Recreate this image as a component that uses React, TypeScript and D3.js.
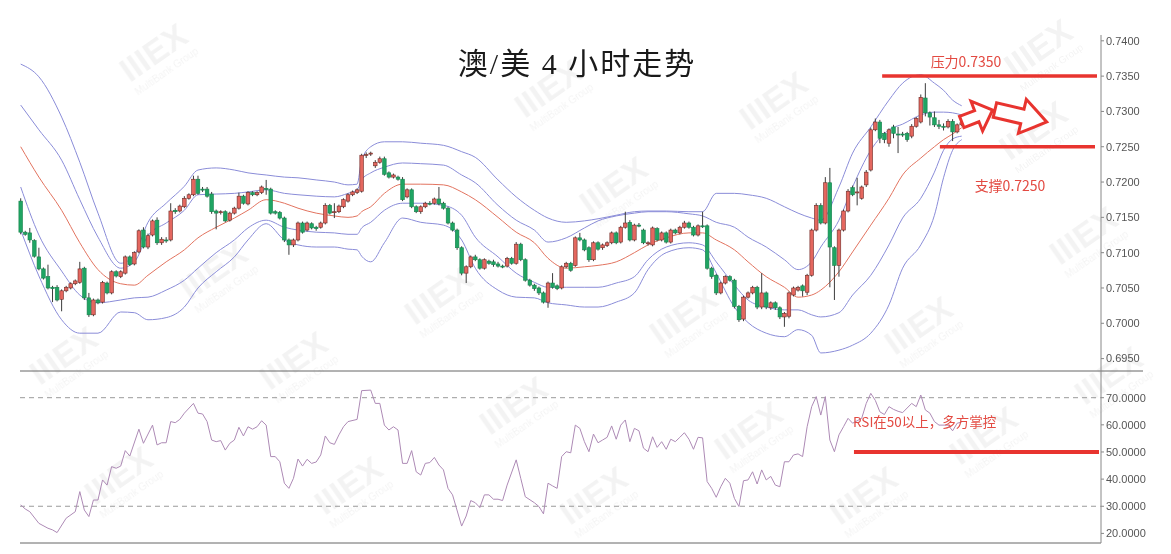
import React from 'react';
import * as d3 from 'd3';

const WIDTH = 1171;
const HEIGHT = 554;

// ---- candle data (4h AUD/USD) ----
const opens = [
0.7173,0.7129,0.7128,0.7117,0.7094,0.7077,0.7066,0.7051,0.7051,0.7034,
0.7046,0.7050,0.7056,0.7058,0.7078,0.7036,0.7012,0.7033,0.7030,0.7057,
0.7043,0.7073,0.7066,0.7071,0.7094,0.7084,0.7101,0.7132,0.7108,0.7125,
0.7146,0.7114,0.7118,0.7118,0.7160,0.7159,0.7165,0.7177,0.7182,0.7204,
0.7190,0.7190,0.7183,0.7159,0.7157,0.7158,0.7146,0.7156,0.7163,0.7180,
0.7169,0.7185,0.7182,0.7185,0.7191,0.7190,0.7158,0.7157,0.7149,0.7118,
0.7111,0.7118,0.7142,0.7132,0.7141,0.7136,0.7136,0.7142,0.7167,0.7157,
0.7158,0.7165,0.7173,0.7182,0.7185,0.7187,0.7238,0.7240,0.7223,0.7228,
0.7233,0.7213,0.7207,0.7207,0.7204,0.7179,0.7189,0.7165,0.7158,0.7165,
0.7170,0.7170,0.7176,0.7170,0.7163,0.7142,0.7132,0.7107,0.7071,0.7080,
0.7094,0.7090,0.7078,0.7088,0.7087,0.7084,0.7081,0.7081,0.7092,0.7085,
0.7112,0.7090,0.7061,0.7054,0.7050,0.7043,0.7030,0.7057,0.7053,0.7050,
0.7080,0.7085,0.7082,0.7121,0.7118,0.7107,0.7090,0.7114,0.7107,0.7110,
0.7114,0.7128,0.7115,0.7136,0.7143,0.7118,0.7139,0.7132,0.7113,0.7111,
0.7134,0.7118,0.7128,0.7115,0.7132,0.7128,0.7136,0.7142,0.7136,0.7125,
0.7138,0.7138,0.7078,0.7068,0.7043,0.7057,0.7066,0.7061,0.7024,0.7006,
0.7037,0.7043,0.7051,0.7023,0.7043,0.7022,0.7029,0.7022,0.7009,0.7010,
0.7040,0.7047,0.7053,0.7044,0.7068,0.7132,0.7167,0.7142,0.7199,0.7107,
0.7082,0.7132,0.7159,0.7192,0.7185,0.7177,0.7196,0.7217,0.7274,0.7285,
0.7269,0.7255,0.7278,0.7268,0.7268,0.7269,0.7265,0.7279,0.7285,0.7319,
0.7298,0.7291,0.7281,0.7279,0.7278,0.7286,0.7271,0.7281];
const highs = [
0.7177,0.7131,0.7135,0.7119,0.7107,0.7079,0.7083,0.7053,0.7054,0.7048,
0.7053,0.7058,0.7062,0.7087,0.7080,0.7043,0.7035,0.7035,0.7060,0.7059,
0.7075,0.7075,0.7075,0.7096,0.7096,0.7102,0.7133,0.7136,0.7127,0.7147,
0.7150,0.7122,0.7122,0.7170,0.7163,0.7168,0.7180,0.7184,0.7209,0.7209,
0.7193,0.7193,0.7186,0.7161,0.7160,0.7160,0.7158,0.7165,0.7185,0.7182,
0.7187,0.7187,0.7187,0.7195,0.7203,0.7192,0.7160,0.7159,0.7151,0.7120,
0.7120,0.7144,0.7144,0.7144,0.7143,0.7138,0.7144,0.7170,0.7169,0.7170,
0.7168,0.7177,0.7184,0.7188,0.7191,0.7240,0.7242,0.7243,0.7231,0.7236,
0.7236,0.7215,0.7212,0.7209,0.7207,0.7191,0.7191,0.7167,0.7167,0.7172,
0.7173,0.7178,0.7193,0.7172,0.7165,0.7144,0.7134,0.7109,0.7082,0.7096,
0.7097,0.7092,0.7092,0.7090,0.7090,0.7087,0.7083,0.7094,0.7094,0.7115,
0.7114,0.7092,0.7063,0.7056,0.7052,0.7045,0.7059,0.7071,0.7055,0.7082,
0.7087,0.7087,0.7123,0.7128,0.7120,0.7109,0.7116,0.7116,0.7113,0.7116,
0.7130,0.7130,0.7138,0.7158,0.7146,0.7141,0.7142,0.7134,0.7116,0.7137,
0.7136,0.7130,0.7130,0.7134,0.7134,0.7138,0.7145,0.7144,0.7138,0.7140,
0.7158,0.7140,0.7080,0.7070,0.7059,0.7068,0.7068,0.7063,0.7026,0.7039,
0.7045,0.7053,0.7053,0.7071,0.7045,0.7031,0.7031,0.7024,0.7016,0.7045,
0.7052,0.7053,0.7055,0.7070,0.7134,0.7170,0.7170,0.7207,0.7220,0.7109,
0.7134,0.7161,0.7190,0.7195,0.7206,0.7195,0.7217,0.7277,0.7290,0.7288,
0.7271,0.7276,0.7281,0.7278,0.7271,0.7271,0.7282,0.7292,0.7324,0.7340,
0.7300,0.7300,0.7288,0.7283,0.7289,0.7289,0.7283,0.7287];
const lows = [
0.7126,0.7124,0.7114,0.7093,0.7075,0.7062,0.7048,0.7030,0.7031,0.7017,
0.7044,0.7048,0.7054,0.7056,0.7033,0.7009,0.7010,0.7027,0.7028,0.7041,
0.7041,0.7065,0.7064,0.7069,0.7081,0.7082,0.7099,0.7106,0.7105,0.7123,
0.7111,0.7111,0.7114,0.7116,0.7155,0.7157,0.7163,0.7175,0.7180,0.7182,
0.7186,0.7178,0.7155,0.7133,0.7154,0.7143,0.7144,0.7154,0.7161,0.7168,
0.7167,0.7180,0.7180,0.7183,0.7182,0.7154,0.7154,0.7147,0.7115,0.7097,
0.7108,0.7116,0.7127,0.7130,0.7133,0.7131,0.7134,0.7140,0.7154,0.7149,
0.7156,0.7163,0.7171,0.7180,0.7183,0.7185,0.7234,0.7237,0.7220,0.7226,
0.7209,0.7205,0.7205,0.7202,0.7173,0.7177,0.7163,0.7156,0.7155,0.7163,
0.7167,0.7168,0.7167,0.7161,0.7140,0.7130,0.7104,0.7068,0.7057,0.7078,
0.7088,0.7076,0.7076,0.7083,0.7080,0.7079,0.7078,0.7079,0.7083,0.7083,
0.7088,0.7059,0.7052,0.7046,0.7040,0.7028,0.7022,0.7049,0.7047,0.7048,
0.7078,0.7073,0.7080,0.7116,0.7102,0.7087,0.7088,0.7103,0.7104,0.7108,
0.7112,0.7112,0.7113,0.7134,0.7116,0.7116,0.7136,0.7112,0.7110,0.7109,
0.7116,0.7116,0.7113,0.7113,0.7126,0.7126,0.7134,0.7134,0.7123,0.7123,
0.7135,0.7076,0.7063,0.7040,0.7041,0.7055,0.7059,0.7021,0.7002,0.7003,
0.7035,0.7041,0.7020,0.7020,0.7020,0.7019,0.7019,0.7006,0.6995,0.7007,
0.7038,0.7045,0.7038,0.7040,0.7066,0.7130,0.7140,0.7140,0.7051,0.7033,
0.7066,0.7130,0.7157,0.7180,0.7167,0.7175,0.7193,0.7215,0.7272,0.7255,
0.7255,0.7250,0.7262,0.7241,0.7264,0.7257,0.7262,0.7277,0.7283,0.7293,
0.7280,0.7278,0.7275,0.7273,0.7276,0.7258,0.7269,0.7279];
const closes = [
0.7129,0.7126,0.7118,0.7095,0.7077,0.7064,0.7050,0.7049,0.7033,0.7046,
0.7051,0.7056,0.7060,0.7077,0.7036,0.7012,0.7033,0.7029,0.7058,0.7043,
0.7073,0.7067,0.7073,0.7094,0.7083,0.7100,0.7131,0.7108,0.7124,0.7145,
0.7114,0.7119,0.7117,0.7159,0.7158,0.7166,0.7177,0.7182,0.7204,0.7184,
0.7189,0.7180,0.7158,0.7156,0.7158,0.7145,0.7156,0.7163,0.7180,0.7170,
0.7185,0.7182,0.7185,0.7193,0.7190,0.7156,0.7156,0.7149,0.7118,0.7111,
0.7118,0.7142,0.7129,0.7142,0.7135,0.7134,0.7142,0.7167,0.7156,0.7158,
0.7166,0.7175,0.7182,0.7186,0.7189,0.7238,0.7239,0.7241,0.7228,0.7233,
0.7211,0.7207,0.7210,0.7204,0.7175,0.7189,0.7165,0.7158,0.7165,0.7170,
0.7169,0.7176,0.7169,0.7163,0.7142,0.7132,0.7107,0.7071,0.7080,0.7094,
0.7090,0.7078,0.7090,0.7085,0.7083,0.7081,0.7080,0.7092,0.7085,0.7112,
0.7090,0.7061,0.7054,0.7049,0.7043,0.7030,0.7057,0.7051,0.7049,0.7080,
0.7085,0.7075,0.7121,0.7118,0.7104,0.7090,0.7114,0.7105,0.7111,0.7114,
0.7128,0.7114,0.7136,0.7142,0.7118,0.7139,0.7138,0.7114,0.7114,0.7135,
0.7118,0.7128,0.7115,0.7132,0.7128,0.7136,0.7142,0.7136,0.7125,0.7138,
0.7137,0.7078,0.7066,0.7043,0.7057,0.7066,0.7061,0.7024,0.7005,0.7037,
0.7043,0.7051,0.7023,0.7043,0.7023,0.7029,0.7022,0.7009,0.7014,0.7043,
0.7050,0.7051,0.7046,0.7068,0.7132,0.7167,0.7142,0.7199,0.7108,0.7082,
0.7132,0.7159,0.7187,0.7182,0.7186,0.7193,0.7214,0.7274,0.7285,0.7262,
0.7260,0.7274,0.7269,0.7267,0.7267,0.7260,0.7279,0.7290,0.7320,0.7298,
0.7292,0.7281,0.7279,0.7278,0.7286,0.7271,0.7281,0.7284];

// ---- Bollinger style bands (sampled at candle indices) ----
const bandIndex = [0,4,9,13,17,22,25,28,32,36,39,43,47,50,54,58,61,65,69,72,74,75,77,80,84,88,93,97,100,105,109,113,116,120,124,127,131,135,138,142,147,150,153,157,160,164,168,171,174,176,180,183,187,191,194,198,201,203,205,207];
const bandOuterUpper = [
0.7367,0.7349,0.7292,0.7228,0.7156,0.7085,0.7097,0.7143,0.7170,0.7194,
0.7217,0.7220,0.7217,0.7213,0.7210,0.7207,0.7206,0.7203,0.7200,0.7196,
0.7197,0.7231,0.7250,0.7257,0.7257,0.7255,0.7252,0.7243,0.7235,0.7203,
0.7179,0.7160,0.7149,0.7143,0.7145,0.7148,0.7153,0.7158,0.7159,0.7159,
0.7158,0.7158,0.7184,0.7184,0.7182,0.7177,0.7165,0.7156,0.7149,0.7146,
0.7193,0.7241,0.7278,0.7316,0.7340,0.7352,0.7340,0.7330,0.7316,0.7308];
const bandInnerUpper = [
0.7309,0.7274,0.7231,0.7175,0.7122,0.7078,0.7087,0.7124,0.7142,0.7160,
0.7182,0.7183,0.7184,0.7186,0.7189,0.7184,0.7182,0.7180,0.7179,0.7184,
0.7189,0.7203,0.7213,0.7221,0.7227,0.7226,0.7224,0.7210,0.7199,0.7167,
0.7146,0.7132,0.7115,0.7121,0.7135,0.7145,0.7152,0.7156,0.7158,0.7158,
0.7155,0.7152,0.7143,0.7136,0.7122,0.7108,0.7090,0.7076,0.7087,0.7108,
0.7146,0.7193,0.7245,0.7274,0.7282,0.7295,0.7299,0.7299,0.7298,0.7295];
const bandMiddle = [
0.7250,0.7207,0.7160,0.7114,0.7076,0.7056,0.7054,0.7068,0.7087,0.7104,
0.7121,0.7136,0.7149,0.7160,0.7175,0.7170,0.7163,0.7156,0.7152,0.7150,
0.7152,0.7158,0.7165,0.7184,0.7197,0.7197,0.7196,0.7186,0.7175,0.7150,
0.7129,0.7114,0.7092,0.7078,0.7080,0.7082,0.7087,0.7100,0.7111,0.7121,
0.7128,0.7128,0.7118,0.7104,0.7087,0.7066,0.7051,0.7037,0.7040,0.7047,
0.7073,0.7101,0.7139,0.7177,0.7210,0.7234,0.7250,0.7260,0.7268,0.7277];
const bandInnerLower = [
0.7193,0.7125,0.7074,0.7040,0.7029,0.7033,0.7036,0.7037,0.7047,0.7061,
0.7078,0.7100,0.7118,0.7135,0.7146,0.7136,0.7132,0.7129,0.7128,0.7126,
0.7126,0.7135,0.7143,0.7160,0.7170,0.7170,0.7167,0.7153,0.7122,0.7094,
0.7071,0.7058,0.7051,0.7051,0.7051,0.7051,0.7057,0.7066,0.7090,0.7108,
0.7114,0.7111,0.7087,0.7054,0.7033,0.7023,0.7019,0.7019,0.7012,0.7009,
0.7015,0.7040,0.7068,0.7111,0.7149,0.7177,0.7214,0.7245,0.7261,0.7265];
const bandOuterLower = [
0.7132,0.7067,0.7005,0.6986,0.6986,0.7016,0.7015,0.7005,0.7008,0.7023,
0.7050,0.7073,0.7094,0.7118,0.7141,0.7118,0.7111,0.7108,0.7108,0.7105,
0.7104,0.7095,0.7087,0.7114,0.7149,0.7143,0.7139,0.7118,0.7078,0.7047,
0.7037,0.7036,0.7029,0.7026,0.7023,0.7023,0.7030,0.7043,0.7076,0.7100,
0.7107,0.7104,0.7071,0.7023,0.7001,0.6986,0.6981,0.6991,0.6983,0.6958,
0.6962,0.6969,0.6986,0.7026,0.7078,0.7111,0.7153,0.7206,0.7245,0.7260];

// ---- RSI ----
const rsiIndex = [0,1,2,4,6,7,8,10,12,13,14,15,16,17,18,19,20,21,22,23,24,26,27,29,30,31,32,33,34,35,36,38,39,40,41,42,43,44,45,46,47,48,49,50,51,52,53,54,55,56,57,58,59,60,61,62,63,64,65,66,67,68,69,70,71,72,74,75,77,78,79,80,81,82,83,84,85,86,87,88,89,90,91,92,93,94,95,97,98,99,100,101,102,103,104,105,106,107,109,110,111,113,114,115,116,117,118,119,120,121,122,123,124,125,126,127,128,129,130,131,132,133,134,135,136,137,138,139,140,141,142,143,144,145,146,147,148,149,150,151,152,153,154,155,156,157,158,159,160,161,162,163,164,165,166,167,168,169,170,171,172,173,174,175,176,177,178,179,180,181,182,183,185,186,187,188,189,190,191,192,193,194,196,197,198,199,200,201,202,204,205,206,207];
const rsiValue = [30.5,29.0,28.0,23.7,21.9,21.3,20.3,25.6,28.0,35.4,28.6,26.2,32.3,32.3,39.7,37.8,44.6,44.0,44.8,50.5,48.5,58.4,53.2,59.9,52.6,53.4,53.4,61.2,60.8,62.0,64.3,67.9,64.3,64.0,61.2,54.4,53.8,54.2,50.7,53.2,54.4,59.1,55.9,59.3,58.4,59.3,61.5,59.9,48.3,48.3,46.4,38.5,36.6,40.3,47.4,44.8,47.3,45.8,46.3,48.9,55.9,53.4,52.8,56.3,59.3,61.2,62.0,72.6,72.8,67.9,67.9,59.9,58.1,59.3,58.1,45.8,45.8,50.5,42.7,41.5,45.8,46.1,48.0,45.2,43.4,36.6,34.2,22.7,26.4,32.1,31.3,29.5,34.2,34.2,32.6,32.6,32.1,37.8,47.1,40.3,33.5,31.3,29.9,27.2,38.5,37.5,36.6,48.3,50.1,49.7,59.9,58.7,53.8,50.1,56.6,53.4,54.4,55.4,59.6,54.7,59.9,61.8,53.8,58.7,57.8,51.4,50.1,55.6,51.7,53.8,51.0,54.7,53.8,55.4,57.1,54.7,51.0,55.4,55.2,39.1,36.6,33.3,37.2,40.3,38.5,32.9,29.9,39.4,39.7,42.7,38.2,43.4,39.7,41.0,37.8,37.2,46.4,46.4,48.9,49.3,48.3,59.3,66.7,70.4,63.6,70.4,54.4,50.1,56.3,59.3,62.4,60.6,62.4,67.9,71.6,69.0,64.8,63.8,66.7,65.7,65.0,64.5,67.9,66.7,71.0,65.5,64.3,61.2,59.9,59.9,57.8,60.6,61.0];

// ---- axes & annotations ----
const priceTicks = [0.74, 0.735, 0.73, 0.725, 0.72, 0.715, 0.71, 0.705, 0.70, 0.695];
const rsiTicks = [70, 60, 50, 40, 30, 20];
const rsiGuides = [70, 30];
const resistanceLevel = 0.735;
const supportLevel = 0.725;
const rsiLevel = 50;
const titleText = '澳/美 4 小时走势';
const resistanceText = '压力0.7350';
const supportText = '支撑0.7250';
const rsiText = 'RSI在50以上，多方掌控';

// layout
const plotLeft = 20;
const axisX = 1101;
const mainTop = 35;
const dividerY = 371;
const rsiBottom = 543;

const x = d3.scaleLinear().domain([0, opens.length - 1]).range([20.7, 961.7]);
const yP = d3.scaleLinear().domain([0.695, 0.74]).range([358.6, 40.8]);
const yR = d3.scaleLinear().domain([20, 70]).range([533.4, 397.7]);

const bandLine = d3
  .line<number>()
  .x((_, i) => x(bandIndex[i]))
  .y((d) => yP(d))
  .curve(d3.curveMonotoneX);

const rsiLine = d3
  .line<number>()
  .x((_, i) => x(rsiIndex[i]))
  .y((d) => yR(d));

function blockArrow(
  tail: [number, number],
  tip: [number, number],
  w1: number,
  w2: number,
  hl: number
) {
  const [tx, ty] = tail;
  const [px, py] = tip;
  const len = Math.hypot(px - tx, py - ty);
  const ux = (px - tx) / len;
  const uy = (py - ty) / len;
  const nx = -uy;
  const ny = ux;
  const bx = px - ux * hl;
  const by = py - uy * hl;
  const pts = [
    [tx + nx * w1, ty + ny * w1],
    [bx + nx * w1, by + ny * w1],
    [bx + nx * w2, by + ny * w2],
    [px, py],
    [bx - nx * w2, by - ny * w2],
    [bx - nx * w1, by - ny * w1],
    [tx - nx * w1, ty - ny * w1],
  ];
  return 'M' + pts.map((p) => p[0].toFixed(1) + ',' + p[1].toFixed(1)).join('L') + 'Z';
}

// faint background logo positions (decoration)
const watermarks: [number, number][] = [
  [160, 62], [555, 98], [780, 110], [1045, 58], [1040, 140], [220, 280], [70, 365],
  [300, 370], [445, 305], [620, 195], [690, 325], [925, 335], [1090, 245], [125, 485],
  [355, 495], [520, 415], [600, 505], [755, 440], [990, 445], [1115, 385], [870, 505],
];

const fmtPrice = d3.format('.4f');
const fmtRsi = d3.format('.4f');

export default function App() {
  const bandColor = '#8a8cd8';
  const midColor = '#e2735f';
  const levelRed = '#e8342f';
  const textRed = '#e34a42';

  const arrow1 = blockArrow([x(207), yP(0.7285)], [x(213.8), yP(0.7302)], 6, 16, 17);
  const arrow2 = blockArrow([x(214.3), yP(0.7302)], [x(225.7), yP(0.7285)], 7.5, 17.5, 25);

  return (
    <svg
      width={WIDTH}
      height={HEIGHT}
      viewBox={`0 0 ${WIDTH} ${HEIGHT}`}
      style={{ position: 'absolute', left: 0, top: 0, background: '#fff' }}
    >
      <rect x={0} y={0} width={WIDTH} height={HEIGHT} fill="#fff" />

      {/* watermarks */}
      <g opacity={0.05} fontFamily="'Liberation Sans', Arial, sans-serif">
        {watermarks.map(([wx, wy], i) => (
          <g key={i} transform={`translate(${wx},${wy}) rotate(-35)`}>
            <text textAnchor="middle" fontSize={34} fontWeight="bold" fill="#000">IIIEX</text>
            <text y={15} textAnchor="middle" fontSize={10} fill="#000">MultiBank Group</text>
          </g>
        ))}
      </g>

      {/* panel frame */}
      <line x1={plotLeft} x2={1143} y1={dividerY} y2={dividerY} stroke="#666" strokeWidth={1} />
      <line x1={plotLeft} x2={axisX} y1={rsiBottom} y2={rsiBottom} stroke="#666" strokeWidth={1} />
      <line x1={axisX} x2={axisX} y1={mainTop} y2={rsiBottom} stroke="#888" strokeWidth={1} />

      {/* price axis */}
      <g fontFamily="'Liberation Sans', Arial, sans-serif" fontSize={11} fill="#555">
        {priceTicks.map((t) => (
          <g key={t}>
            <line x1={axisX} x2={axisX + 3} y1={yP(t)} y2={yP(t)} stroke="#888" />
            <text x={axisX + 5} y={yP(t)} dy="0.35em">{fmtPrice(t)}</text>
          </g>
        ))}
      </g>

      {/* RSI axis */}
      <g fontFamily="'Liberation Sans', Arial, sans-serif" fontSize={11} fill="#555">
        {rsiTicks.map((t) => (
          <g key={t}>
            <line x1={axisX} x2={axisX + 3} y1={yR(t)} y2={yR(t)} stroke="#888" />
            <text x={axisX + 5} y={yR(t)} dy="0.35em">{fmtRsi(t)}</text>
          </g>
        ))}
      </g>

      {/* RSI guides */}
      {rsiGuides.map((g) => (
        <line
          key={g}
          x1={plotLeft}
          x2={axisX}
          y1={yR(g)}
          y2={yR(g)}
          stroke="#9a9a9a"
          strokeWidth={1}
          strokeDasharray="5,4"
        />
      ))}

      {/* bands */}
      <path d={bandLine(bandOuterUpper) || ''} fill="none" stroke={bandColor} strokeWidth={1} />
      <path d={bandLine(bandInnerUpper) || ''} fill="none" stroke={bandColor} strokeWidth={1} />
      <path d={bandLine(bandMiddle) || ''} fill="none" stroke={midColor} strokeWidth={1} />
      <path d={bandLine(bandInnerLower) || ''} fill="none" stroke={bandColor} strokeWidth={1} />
      <path d={bandLine(bandOuterLower) || ''} fill="none" stroke={bandColor} strokeWidth={1} />

      {/* candles */}
      {opens.map((o, i) => {
        const c = closes[i];
        const up = c >= o;
        const cx = x(i);
        const yTop = yP(Math.max(o, c));
        const yBot = yP(Math.min(o, c));
        const h = Math.max(1, yBot - yTop);
        return (
          <g key={i}>
            <line x1={cx} x2={cx} y1={yP(highs[i])} y2={yP(lows[i])} stroke="#3c3c3c" strokeWidth={1} />
            <rect
              x={cx - 1.8}
              y={yTop}
              width={3.6}
              height={h}
              fill={up ? '#e4675f' : '#1fa563'}
              stroke={up ? '#6e2b26' : '#17814c'}
              strokeWidth={0.6}
            />
          </g>
        );
      })}

      {/* RSI line */}
      <path d={rsiLine(rsiValue) || ''} fill="none" stroke="#ad8ab5" strokeWidth={1} />

      {/* support / resistance */}
      <line x1={x(189.5)} x2={axisX - 4} y1={yP(resistanceLevel)} y2={yP(resistanceLevel)} stroke={levelRed} strokeWidth={3.5} />
      <line x1={x(202.2)} x2={axisX - 6} y1={yP(supportLevel)} y2={yP(supportLevel)} stroke={levelRed} strokeWidth={3.5} />
      <line x1={x(183.3)} x2={axisX - 2} y1={yR(rsiLevel)} y2={yR(rsiLevel)} stroke={levelRed} strokeWidth={4} />

      {/* arrows */}
      <path d={arrow1} fill="#fff" stroke={levelRed} strokeWidth={3} strokeLinejoin="miter" />
      <path d={arrow2} fill="#fff" stroke={levelRed} strokeWidth={3} strokeLinejoin="miter" />

      {/* annotation labels */}
      <g fontFamily="'Noto Sans CJK SC', 'Noto Sans', sans-serif" fill={textRed}>
        <text x={966} y={67} textAnchor="middle" fontSize={14}>{resistanceText}</text>
        <text x={1010} y={191} textAnchor="middle" fontSize={14}>{supportText}</text>
        <text x={853} y={427} textAnchor="start" fontSize={13.5}>{rsiText}</text>
      </g>

      {/* title */}
      <text
        x={577}
        y={74}
        textAnchor="middle"
        fontFamily="'Liberation Serif', 'Noto Sans CJK SC', serif"
        fontSize={30}
        letterSpacing={2}
        fill="#1a1a1a"
      >
        {titleText}
      </text>
    </svg>
  );
}
